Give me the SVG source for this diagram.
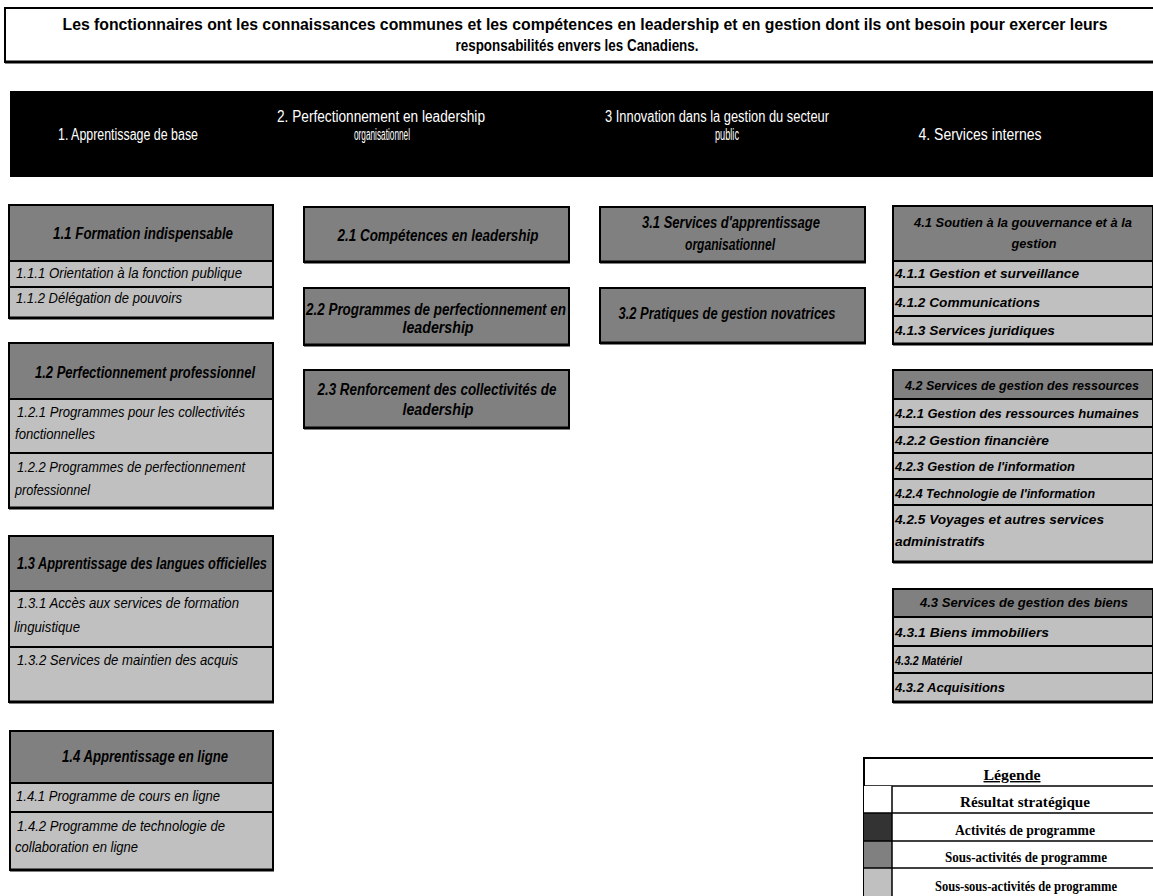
<svg xmlns="http://www.w3.org/2000/svg" width="1153" height="896" viewBox="0 0 1153 896">
<defs>
<style>
.t{font-family:"Liberation Sans",Arial,sans-serif;fill:#000}
.hd{font-size:16px;font-weight:bold}
.ch{font-size:16px;fill:#fff}
.gh{font-size:16px;font-style:italic;font-weight:bold}
.gh4{font-size:13px;font-style:italic;font-weight:bold}
.rw{font-size:15px;font-style:italic}
.rb{font-size:13px;font-style:italic;font-weight:bold}
.lg{font-family:"Liberation Serif","Times New Roman",serif;font-size:14px;font-weight:bold;fill:#000}
.b{stroke:#000;stroke-width:2}
.mid{fill:#808080}
.lt{fill:#c0c0c0}
.sh{stroke:#000;stroke-width:3;fill:none}
</style>
</defs>
<rect width="1153" height="896" fill="#fff"/>

<g id="resultat">
<rect x="5" y="8" width="1160" height="54" fill="#fff" class="b"/>
<line x1="5" y1="62" x2="1153" y2="62" class="sh"/>
<text class="t hd" x="585" y="30" text-anchor="middle" textLength="1045" lengthAdjust="spacingAndGlyphs">Les fonctionnaires ont les connaissances communes et  les compétences en leadership et en gestion dont ils ont besoin pour exercer leurs</text>
<text class="t hd" x="577" y="51" text-anchor="middle" textLength="243" lengthAdjust="spacingAndGlyphs">responsabilités envers les Canadiens.</text>
</g>

<g id="activites">
<rect x="10" y="91" width="1143" height="86" fill="#000"/>
<text class="t ch" x="128" y="140" text-anchor="middle" textLength="140" lengthAdjust="spacingAndGlyphs">1. Apprentissage de base</text>
<text class="t ch" x="381" y="122" text-anchor="middle" textLength="208" lengthAdjust="spacingAndGlyphs">2. Perfectionnement en leadership</text>
<text class="t ch" x="382" y="140" text-anchor="middle" textLength="56" lengthAdjust="spacingAndGlyphs">organisationnel</text>
<text class="t ch" x="717" y="122" text-anchor="middle" textLength="224" lengthAdjust="spacingAndGlyphs">3 Innovation dans la gestion du secteur</text>
<text class="t ch" x="727" y="140" text-anchor="middle" textLength="24" lengthAdjust="spacingAndGlyphs">public</text>
<text class="t ch" x="980" y="140" text-anchor="middle" textLength="123" lengthAdjust="spacingAndGlyphs">4. Services internes</text>
</g>

<g id="n1-1">
<rect x="9" y="205" width="264" height="56" class="b mid"/>
<rect x="9" y="261" width="264" height="26" class="b lt"/>
<rect x="9" y="287" width="264" height="31" class="b lt"/>
<line x1="9" y1="318" x2="274" y2="318" class="sh"/>
<text class="t gh" x="143" y="239" text-anchor="middle" textLength="180" lengthAdjust="spacingAndGlyphs">1.1 Formation indispensable</text>
<text class="t rw" x="16" y="278" textLength="226" lengthAdjust="spacingAndGlyphs">1.1.1 Orientation à la fonction publique</text>
<text class="t rw" x="16" y="303" textLength="166" lengthAdjust="spacingAndGlyphs">1.1.2 Délégation de pouvoirs</text>
</g>

<g id="n1-2">
<rect x="9" y="343" width="264" height="56" class="b mid"/>
<rect x="9" y="399" width="264" height="54" class="b lt"/>
<rect x="9" y="453" width="264" height="55" class="b lt"/>
<line x1="9" y1="508" x2="274" y2="508" class="sh"/>
<text class="t gh" x="145" y="378" text-anchor="middle" textLength="220" lengthAdjust="spacingAndGlyphs">1.2 Perfectionnement professionnel</text>
<text class="t rw" x="17" y="417" textLength="228" lengthAdjust="spacingAndGlyphs">1.2.1 Programmes pour les collectivités</text>
<text class="t rw" x="15" y="439" textLength="80" lengthAdjust="spacingAndGlyphs">fonctionnelles</text>
<text class="t rw" x="17" y="472" textLength="228" lengthAdjust="spacingAndGlyphs">1.2.2 Programmes de perfectionnement</text>
<text class="t rw" x="15" y="495" textLength="75" lengthAdjust="spacingAndGlyphs">professionnel</text>
</g>

<g id="n1-3">
<rect x="9" y="536" width="264" height="55" class="b mid"/>
<rect x="9" y="591" width="264" height="56" class="b lt"/>
<rect x="9" y="647" width="264" height="55" class="b lt"/>
<line x1="9" y1="702" x2="274" y2="702" class="sh"/>
<text class="t gh" x="17" y="569" textLength="250" lengthAdjust="spacingAndGlyphs">1.3 Apprentissage des langues officielles</text>
<text class="t rw" x="17" y="608" textLength="222" lengthAdjust="spacingAndGlyphs">1.3.1 Accès aux services de formation</text>
<text class="t rw" x="14" y="632" textLength="66" lengthAdjust="spacingAndGlyphs">linguistique</text>
<text class="t rw" x="17" y="665" textLength="221" lengthAdjust="spacingAndGlyphs">1.3.2 Services de maintien des acquis</text>
</g>

<g id="n1-4">
<rect x="10" y="731" width="263" height="52" class="b mid"/>
<rect x="10" y="783" width="263" height="29" class="b lt"/>
<rect x="10" y="812" width="263" height="58" class="b lt"/>
<line x1="10" y1="870" x2="274" y2="870" class="sh"/>
<text class="t gh" x="145" y="762" text-anchor="middle" textLength="166" lengthAdjust="spacingAndGlyphs">1.4 Apprentissage en ligne</text>
<text class="t rw" x="16" y="801" textLength="204" lengthAdjust="spacingAndGlyphs">1.4.1 Programme de cours en ligne</text>
<text class="t rw" x="17" y="831" textLength="208" lengthAdjust="spacingAndGlyphs">1.4.2 Programme de technologie de</text>
<text class="t rw" x="15" y="852" textLength="123" lengthAdjust="spacingAndGlyphs">collaboration en ligne</text>
</g>

<g id="n2-1">
<rect x="304" y="207" width="265" height="55" class="b mid"/>
<line x1="304" y1="262" x2="570" y2="262" class="sh"/>
<text class="t gh" x="438" y="241" text-anchor="middle" textLength="201" lengthAdjust="spacingAndGlyphs">2.1 Compétences en leadership</text>
</g>
<g id="n2-2">
<rect x="304" y="288" width="265" height="57" class="b mid"/>
<line x1="304" y1="345" x2="570" y2="345" class="sh"/>
<text class="t gh" x="436" y="315" text-anchor="middle" textLength="260" lengthAdjust="spacingAndGlyphs">2.2 Programmes de perfectionnement en</text>
<text class="t gh" x="438" y="333" text-anchor="middle" textLength="71" lengthAdjust="spacingAndGlyphs">leadership</text>
</g>
<g id="n2-3">
<rect x="304" y="370" width="265" height="58" class="b mid"/>
<line x1="304" y1="428" x2="570" y2="428" class="sh"/>
<text class="t gh" x="437" y="395" text-anchor="middle" textLength="239" lengthAdjust="spacingAndGlyphs">2.3 Renforcement des collectivités de</text>
<text class="t gh" x="438" y="415" text-anchor="middle" textLength="71" lengthAdjust="spacingAndGlyphs">leadership</text>
</g>

<g id="n3-1">
<rect x="600" y="207" width="265" height="55" class="b mid"/>
<line x1="600" y1="262" x2="866" y2="262" class="sh"/>
<text class="t gh" x="731" y="228" text-anchor="middle" textLength="178" lengthAdjust="spacingAndGlyphs">3.1 Services d'apprentissage</text>
<text class="t gh" x="730" y="250" text-anchor="middle" textLength="90" lengthAdjust="spacingAndGlyphs">organisationnel</text>
</g>
<g id="n3-2">
<rect x="600" y="288" width="265" height="55" class="b mid"/>
<line x1="600" y1="343" x2="866" y2="343" class="sh"/>
<text class="t gh" x="727" y="319" text-anchor="middle" textLength="217" lengthAdjust="spacingAndGlyphs">3.2 Pratiques de gestion novatrices</text>
</g>

<g id="n4-1">
<rect x="893" y="206" width="260" height="55" class="b mid"/>
<rect x="893" y="261" width="260" height="26" class="b lt"/>
<rect x="893" y="287" width="260" height="29" class="b lt"/>
<rect x="893" y="316" width="260" height="28" class="b lt"/>
<line x1="893" y1="344" x2="1153" y2="344" class="sh"/>
<text class="t gh4" x="1023" y="227" text-anchor="middle" textLength="218" lengthAdjust="spacingAndGlyphs">4.1 Soutien à la gouvernance et à la</text>
<text class="t gh4" x="1034" y="248" text-anchor="middle" textLength="45" lengthAdjust="spacingAndGlyphs">gestion</text>
<text class="t rb" x="895" y="278" textLength="184" lengthAdjust="spacingAndGlyphs">4.1.1 Gestion et surveillance</text>
<text class="t rb" x="895" y="307" textLength="145" lengthAdjust="spacingAndGlyphs">4.1.2 Communications</text>
<text class="t rb" x="895" y="335" textLength="160" lengthAdjust="spacingAndGlyphs">4.1.3 Services juridiques</text>
</g>

<g id="n4-2">
<rect x="893" y="370" width="260" height="29" class="b mid"/>
<rect x="893" y="399" width="260" height="28" class="b lt"/>
<rect x="893" y="427" width="260" height="26" class="b lt"/>
<rect x="893" y="453" width="260" height="26" class="b lt"/>
<rect x="893" y="479" width="260" height="26" class="b lt"/>
<rect x="893" y="505" width="260" height="57" class="b lt"/>
<line x1="893" y1="562" x2="1153" y2="562" class="sh"/>
<text class="t gh4" x="1022" y="390" text-anchor="middle" textLength="234" lengthAdjust="spacingAndGlyphs" style="font-size:12px">4.2 Services de gestion des ressources</text>
<text class="t rb" x="895" y="418" textLength="244" lengthAdjust="spacingAndGlyphs" style="font-size:12px">4.2.1 Gestion des ressources humaines</text>
<text class="t rb" x="895" y="445" textLength="154" lengthAdjust="spacingAndGlyphs">4.2.2 Gestion financière</text>
<text class="t rb" x="895" y="471" textLength="180" lengthAdjust="spacingAndGlyphs">4.2.3 Gestion de l'information</text>
<text class="t rb" x="895" y="498" textLength="200" lengthAdjust="spacingAndGlyphs">4.2.4 Technologie de l'information</text>
<text class="t rb" x="895" y="524" textLength="209" lengthAdjust="spacingAndGlyphs">4.2.5 Voyages et autres services</text>
<text class="t rb" x="895" y="546" textLength="90" lengthAdjust="spacingAndGlyphs">administratifs</text>
</g>

<g id="n4-3">
<rect x="893" y="589" width="260" height="28" class="b mid"/>
<rect x="893" y="617" width="260" height="29" class="b lt"/>
<rect x="893" y="646" width="260" height="27" class="b lt"/>
<rect x="893" y="673" width="260" height="29" class="b lt"/>
<line x1="893" y1="702" x2="1153" y2="702" class="sh"/>
<text class="t gh4" x="1024" y="607" text-anchor="middle" textLength="208" lengthAdjust="spacingAndGlyphs">4.3 Services de gestion des biens</text>
<text class="t rb" x="895" y="637" textLength="154" lengthAdjust="spacingAndGlyphs">4.3.1 Biens immobiliers</text>
<text class="t rb" x="895" y="665" textLength="67" lengthAdjust="spacingAndGlyphs">4.3.2 Matériel</text>
<text class="t rb" x="895" y="692" textLength="110" lengthAdjust="spacingAndGlyphs">4.3.2 Acquisitions</text>
</g>

<g id="legende">
<rect x="864" y="758" width="300" height="150" fill="#fff" class="b"/>
<line x1="864" y1="786" x2="1153" y2="786" stroke="#000" stroke-width="1.5"/>
<rect x="864" y="786" width="28" height="27" fill="#fff"/>
<rect x="864" y="813" width="28" height="28" fill="#333"/>
<rect x="864" y="841" width="28" height="27" fill="#808080"/>
<rect x="864" y="868" width="28" height="28" fill="#c0c0c0"/>
<line x1="892" y1="786" x2="892" y2="896" stroke="#000" stroke-width="1.5"/>
<line x1="864" y1="813" x2="1153" y2="813" stroke="#000" stroke-width="1.5"/>
<line x1="864" y1="841" x2="1153" y2="841" stroke="#000" stroke-width="1.5"/>
<line x1="864" y1="868" x2="1153" y2="868" stroke="#000" stroke-width="1.5"/>
<text class="lg" x="1012" y="780" text-anchor="middle" textLength="57" lengthAdjust="spacingAndGlyphs" text-decoration="underline">Légende</text>
<text class="lg" x="1025" y="807" text-anchor="middle" textLength="130" lengthAdjust="spacingAndGlyphs">Résultat stratégique</text>
<text class="lg" x="1025" y="835" text-anchor="middle" textLength="140" lengthAdjust="spacingAndGlyphs">Activités de programme</text>
<text class="lg" x="1026" y="862" text-anchor="middle" textLength="162" lengthAdjust="spacingAndGlyphs">Sous-activités de programme</text>
<text class="lg" x="1026" y="891" text-anchor="middle" textLength="182" lengthAdjust="spacingAndGlyphs">Sous-sous-activités de programme</text>
</g>
</svg>
